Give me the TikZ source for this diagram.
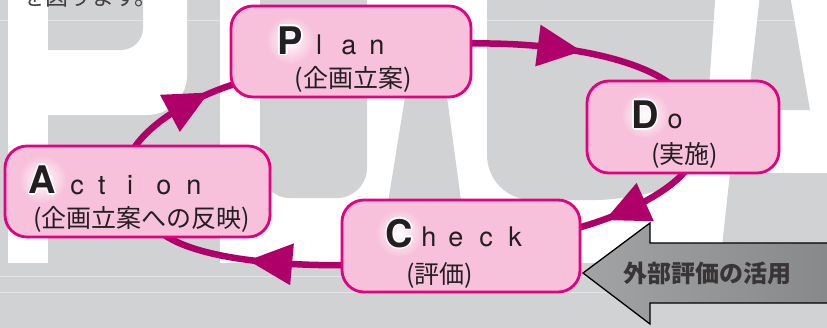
\documentclass[tikz,border=0pt]{standalone}
\usepackage{fontspec}
\setmainfont{TeX Gyre Heros}
\newfontfamily\jpf{Noto Sans CJK JP}
\usetikzlibrary{decorations.markings,calc}
\definecolor{bggray}{HTML}{D1D2D4}
\definecolor{boxfill}{HTML}{F7C1DB}
\definecolor{boxline}{HTML}{E4007F}
\definecolor{arrowc}{HTML}{AF0069}
\definecolor{txt}{HTML}{231F20}
\definecolor{garrowL}{HTML}{A2A3A5}
\definecolor{garrowR}{HTML}{87888A}
\pgfdeclarelayer{bg}
\pgfdeclarelayer{arr}
\pgfsetlayers{bg,arr,main}
\tikzset{
 box/.style={draw=boxline, line width=2.8pt, fill=boxfill, rounded corners=22pt, inner sep=0pt},
 cycarrow/.style={draw=arrowc, line width=6.5pt, postaction={decorate},
   decoration={markings, mark=at position #1 with {\fill[arrowc] (23pt,0pt) -- (-21pt,21pt) -- (-21pt,-21pt) -- cycle;}}},
 capl/.style={font=\fontsize{38}{38}\selectfont\bfseries, inner sep=0pt, anchor=base},
 lowl/.style={font=\fontsize{27}{27}\selectfont, text=txt, inner sep=0pt, anchor=base},
 subl/.style={font=\jpf\fontsize{25}{25}\selectfont, text=txt, inner sep=0pt},
}
\newcommand\glowcap[4]{% name, x, baseline y, letter
 \shade[inner color=white, outer color=boxfill] (#2,#3-14) circle[radius=24];
 \foreach \a in {0,45,...,315}{\node[capl,text=white] at ($(#2,#3)+(\a:1.7)$) {#4};}
 \node[capl,text=txt] (#1) at (#2,#3) {#4};}
\begin{document}
\begin{tikzpicture}[x=1pt,y=-1pt]
\useasboundingbox (0,0) rectangle (827,327);
\begin{pgfonlayer}{bg}
\fill[bggray] (-5,-5) rectangle (832,332);
% P
\fill[white, rounded corners=40] (-100,-100) rectangle (187,115);
\fill[bggray, rounded corners=22] (-100,-100) rectangle (143,50);
\fill[white] (8,-5) rectangle (48,263);
\fill[bggray] (-5,-5) rectangle (8,332);
% D C A
\fill[white] (220,-5) rectangle (832,263);
\fill[bggray, rounded corners=30] (260,-100) rectangle (367,198);
\fill[bggray] (411,60) -- (442,60) -- (463,215) -- (386,215) -- cycle;
\fill[bggray, rounded corners=45] (487,-100) -- (722,-100) -- (703,175) -- (640,200) -- (487,200) -- cycle;
\fill[bggray] (760,-5) -- (790,-5) -- (810,110) -- (747,110) -- cycle;
\fill[bggray] (730,173) -- (832,173) -- (832,265) -- (720,265) -- cycle;
\fill[bggray] (-5,263) rectangle (832,332);
\draw[white, opacity=0.4, line width=0.7pt] (-5,20) -- (832,20);
\draw[white, opacity=0.4, line width=0.7pt] (-5,276) -- (832,276);
\draw[white, opacity=0.4, line width=0.7pt] (-5,292) -- (832,292);
\end{pgfonlayer}
% top text
\node[font=\jpf\fontsize{23}{23}\selectfont, text=txt!85, anchor=base west, inner sep=0pt] (toptext) at (22,5) {を図ります。};
% boxes
\node[box, minimum width=240pt, minimum height=91pt] (plan) at (351,51.5) {};
\node[box, minimum width=192pt, minimum height=92pt] (do) at (683,127) {};
\node[box, minimum width=265pt, minimum height=91pt] (action) at (137.5,191.5) {};
\node[box, minimum width=238pt, minimum height=92pt] (check) at (461,246) {};
% connectors
\begin{pgfonlayer}{arr}
\draw[cycarrow=0.44] ($(plan.east)+(-6,-8)$) .. controls (560,42) and (635,58) .. ($(do.north)+(-13,4)$);
\draw[cycarrow=0.58] ($(do.south)+(2,-3)$) .. controls (668,192) and (625,215) .. ($(check.east)+(-4,-18)$);
\draw[cycarrow=0.40] ($(check.west)+(4,19)$) .. controls (300,266) and (205,262) .. ($(action.south)+(27.5,-3)$);
\draw[cycarrow=0.58] ($(action.north)+(-2.5,2)$) .. controls (150,125) and (185,100) .. ($(plan.west)+(5,32.5)$);
\end{pgfonlayer}
% Plan
\glowcap{capP}{290}{54}{P}
\node[lowl] (pl1) at (319,54.5) {l};
\node[lowl] (pl2) at (349,54.5) {a};
\node[lowl] (pl3) at (377,54.5) {n};
\node[subl] (plsub) at (353,79) {(企画立案)};
% Do
\glowcap{capD}{645}{128.5}{D}
\node[lowl] (do1) at (675,128.5) {o};
\node[subl] (dosub) at (684.5,155) {(実施)};
% Action
\glowcap{capA}{42.5}{193.5}{A}
\node[lowl] (ac1) at (77,194) {c};
\node[lowl] (ac2) at (102,194) {t};
\node[lowl] (ac3) at (130,194) {i};
\node[lowl] (ac4) at (164,194) {o};
\node[lowl] (ac5) at (194,194) {n};
\node[subl] (acsub) at (141.5,219) {(企画立案への反映)};
% Check
\glowcap{capC}{399.5}{247}{C}
\node[lowl] (ch1) at (429,246) {h};
\node[lowl] (ch2) at (456,246) {e};
\node[lowl] (ch3) at (486,246) {c};
\node[lowl] (ch4) at (515,246) {k};
\node[subl] (chsub) at (439.5,275) {(評価)};
% external arrow
\shade[left color=garrowL, right color=garrowR, draw=black, line width=1.3pt] (583,273) -- (650,223) -- (650,243) -- (835,243) -- (835,303) -- (650,303) -- (650,324) -- cycle;
\node[font=\jpf\bfseries\fontsize{24}{24}\selectfont, text=txt!90, inner sep=0pt] (ext) at (707,273.5) {外部評価の活用};
\end{tikzpicture}
\end{document}
